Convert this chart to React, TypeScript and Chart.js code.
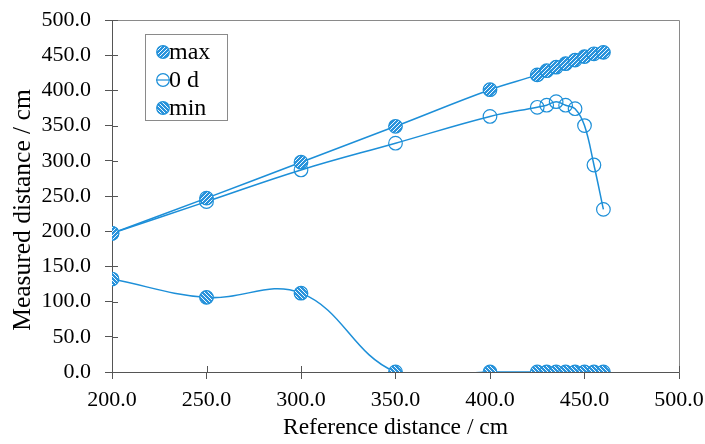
import { useEffect, useRef } from 'react';
import { Chart, registerables } from 'chart.js';

Chart.register(...registerables);

const referenceDistance = [200, 250, 300, 350, 400, 425, 430, 435, 440, 445, 450, 455, 460];
const maxValues = [197, 247, 298, 349, 401, 422, 428, 433, 438, 443, 448, 452, 454];
const zeroDayValues = [197, 242, 287, 325, 363, 376, 379, 384, 379, 374, 350, 294, 231];
const minValues = [132, 106, 112, 0, 0, 0, 0, 0, 0, 0, 0, 0, 0];
const seriesNames = ['max', '0 d', 'min'];
const xTitle = 'Reference distance / cm';
const yTitle = 'Measured distance / cm';

const LINE = '#1d8fd8';
const FILL = '#2a93dc';
const AXIS = '#555555';
const FRAME = '#8a8a8a';
const FONT = "'Liberation Serif', 'Times New Roman', serif";

function hatch(dir: number): CanvasPattern {
  const s = 4;
  const c = document.createElement('canvas');
  c.width = s;
  c.height = s;
  const g = c.getContext('2d')!;
  g.fillStyle = FILL;
  g.fillRect(0, 0, s, s);
  g.strokeStyle = 'rgba(255,255,255,0.95)';
  g.lineWidth = 1;
  g.beginPath();
  if (dir > 0) {
    g.moveTo(-1, s + 1); g.lineTo(s + 1, -1);
    g.moveTo(-1, 1); g.lineTo(1, -1);
    g.moveTo(s - 1, s + 1); g.lineTo(s + 1, s - 1);
  } else {
    g.moveTo(-1, -1); g.lineTo(s + 1, s + 1);
    g.moveTo(-1, s - 1); g.lineTo(1, s + 1);
    g.moveTo(s - 1, -1); g.lineTo(s + 1, 1);
  }
  g.stroke();
  return g.createPattern(c, 'repeat')!;
}

const pts = (ys: number[]) => referenceDistance.map((x, i) => ({ x, y: ys[i] }));

export default function App() {
  const ref = useRef<HTMLCanvasElement | null>(null);

  useEffect(() => {
    if (!ref.current) return;
    const maxPat = hatch(1);
    const minPat = hatch(-1);
    const R = 6.8;

    const framePlugin = {
      id: 'frameAndTicks',
      beforeDatasetsDraw(chart: any) {
        const { ctx, chartArea: a, scales } = chart;
        ctx.save();
        ctx.strokeStyle = FRAME;
        ctx.lineWidth = 1;
        ctx.beginPath();
        ctx.moveTo(Math.round(a.left) + 0.5, Math.round(a.top) + 0.5);
        ctx.lineTo(Math.round(a.right) + 0.5, Math.round(a.top) + 0.5);
        ctx.lineTo(Math.round(a.right) + 0.5, Math.round(a.bottom) + 0.5);
        ctx.stroke();
        // inner halves of crossing tick marks
        ctx.strokeStyle = AXIS;
        ctx.beginPath();
        scales.x.ticks.forEach((t: any) => {
          const px = Math.round(scales.x.getPixelForValue(t.value)) + 0.5;
          ctx.moveTo(px, a.bottom);
          ctx.lineTo(px, a.bottom - 6);
        });
        scales.y.ticks.forEach((t: any) => {
          const py = Math.round(scales.y.getPixelForValue(t.value)) + 0.5;
          ctx.moveTo(a.left, py);
          ctx.lineTo(a.left + 6, py);
        });
        ctx.stroke();
        ctx.restore();
      },
      afterDraw(chart: any) {
        const { ctx } = chart;
        ctx.save();
        // y axis title
        ctx.font = `25.5px ${FONT}`;
        ctx.fillStyle = '#000';
        ctx.textAlign = 'center';
        ctx.textBaseline = 'middle';
        ctx.translate(23, 210);
        ctx.rotate(-Math.PI / 2);
        ctx.fillText(yTitle, 0, 0);
        ctx.restore();

        // legend inside plot
        ctx.save();
        const bx = 145.5, by = 34.5, bw = 82, bh = 86;
        ctx.fillStyle = '#fff';
        ctx.fillRect(bx, by, bw, bh);
        ctx.strokeStyle = FRAME;
        ctx.lineWidth = 1;
        ctx.strokeRect(bx, by, bw, bh);
        ctx.font = `24px ${FONT}`;
        ctx.textAlign = 'left';
        ctx.textBaseline = 'middle';
        chart.data.datasets.forEach((ds: any, i: number) => {
          const cy = 52 + i * 28;
          const cx = 163;
          ctx.beginPath();
          ctx.arc(cx, cy, R - 0.5, 0, Math.PI * 2);
          if (ds.pointBackgroundColor !== 'rgba(0,0,0,0)') {
            ctx.fillStyle = ds.pointBackgroundColor;
            ctx.fill();
          }
          ctx.strokeStyle = LINE;
          ctx.lineWidth = 1.2;
          ctx.stroke();
          if (ds.pointBackgroundColor === 'rgba(0,0,0,0)') {
            ctx.beginPath();
            ctx.moveTo(cx - R, cy);
            ctx.lineTo(cx + R, cy);
            ctx.stroke();
          }
          ctx.fillStyle = '#000';
          ctx.fillText(ds.label, 169, cy + 1);
        });
        ctx.restore();
      },
    };

    const common = {
      borderColor: LINE,
      borderWidth: 1.5,
      pointRadius: R,
      pointHoverRadius: R,
      pointBorderColor: LINE,
      pointBorderWidth: 1.2,
      tension: 0.4,
      fill: false,
    };

    const chart = new Chart(ref.current, {
      type: 'line',
      data: {
        datasets: [
          { ...common, label: seriesNames[0], data: pts(maxValues), pointBackgroundColor: maxPat as any },
          { ...common, label: seriesNames[1], data: pts(zeroDayValues), pointBackgroundColor: 'rgba(0,0,0,0)' },
          { ...common, label: seriesNames[2], data: pts(minValues), pointBackgroundColor: minPat as any },
        ],
      },
      options: {
        animation: false,
        responsive: false,
        maintainAspectRatio: false,
        devicePixelRatio: 1,
        layout: { padding: { left: 0, right: 26, top: 20, bottom: 0 } },
        elements: { line: { capBezierPoints: false } },
        plugins: { legend: { display: false }, tooltip: { enabled: false } },
        scales: {
          x: {
            type: 'linear',
            min: 200,
            max: 500,
            ticks: {
              stepSize: 50,
              color: '#000',
              font: { family: FONT, size: 22 },
              padding: 8,
              maxRotation: 0,
              callback: (v: any) => Number(v).toFixed(1),
            },
            grid: { drawOnChartArea: false, drawTicks: true, tickLength: 7, color: AXIS, lineWidth: 1 },
            border: { display: true, color: AXIS, width: 1 },
            title: {
              display: true,
              text: xTitle,
              color: '#000',
              font: { family: FONT, size: 23.5 },
              padding: { top: 0, bottom: 2 },
            },
            afterFit: (s: any) => {
              s.height = 72;
              s.paddingLeft = 0;
              s.paddingRight = 0;
            },
          },
          y: {
            type: 'linear',
            min: 0,
            max: 500,
            ticks: {
              stepSize: 50,
              color: '#000',
              font: { family: FONT, size: 22 },
              padding: 14,
              callback: (v: any) => Number(v).toFixed(1),
            },
            grid: { drawOnChartArea: false, drawTicks: true, tickLength: 7, color: AXIS, lineWidth: 1 },
            border: { display: true, color: AXIS, width: 1 },
            afterFit: (s: any) => {
              s.width = 112;
              s.paddingTop = 0;
              s.paddingBottom = 0;
            },
          },
        },
      },
      plugins: [framePlugin],
    });
    return () => chart.destroy();
  }, []);

  return (
    <div style={{ position: 'absolute', left: 0, top: 0, width: 705, height: 444, background: '#fff' }}>
      <canvas ref={ref} width={705} height={444} style={{ width: 705, height: 444, display: 'block' }} />
    </div>
  );
}
